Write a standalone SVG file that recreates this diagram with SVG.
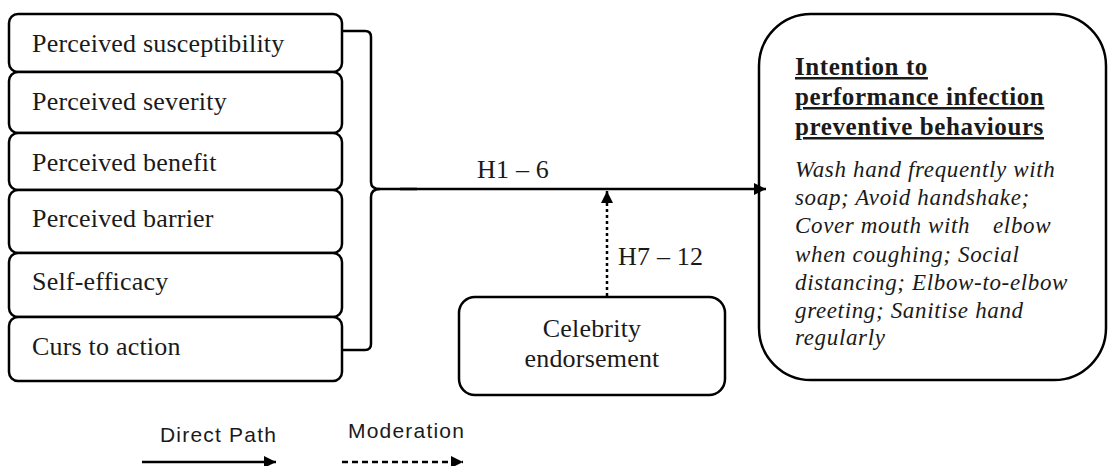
<svg xmlns="http://www.w3.org/2000/svg" width="1110" height="466" viewBox="0 0 1110 466">
<style>
.box{fill:#fff;stroke:#000;stroke-width:2.5}
.lbl{font-family:"Liberation Serif",serif;font-size:26px;letter-spacing:0.2px;fill:#1a1a1a}
.ttl{font-family:"Liberation Serif",serif;font-size:25px;font-weight:bold;letter-spacing:0.6px;fill:#1a1a1a;text-decoration:underline}
.itl{font-family:"Liberation Serif",serif;font-size:23px;font-style:italic;letter-spacing:0.65px;fill:#1a1a1a}
.leg{font-family:"Liberation Sans",sans-serif;font-size:21px;letter-spacing:1.2px;fill:#1a1a1a}
.ln{fill:none;stroke:#000;stroke-width:2.5}
</style>
<defs>
<marker id="ah" markerUnits="userSpaceOnUse" markerWidth="14" markerHeight="14" refX="12" refY="6" orient="auto"><path d="M0,0 L12,6 L0,12 z" fill="#000"/></marker>
</defs>
<rect width="1110" height="466" fill="#fff"/>
<g id="n1"><rect class="box" x="9" y="14" width="333" height="58" rx="9"/><text class="lbl" x="32" y="52">Perceived susceptibility</text></g>
<g id="n2"><rect class="box" x="9" y="72" width="333" height="61" rx="9"/><text class="lbl" x="32" y="110">Perceived severity</text></g>
<g id="n3"><rect class="box" x="9" y="133" width="333" height="57" rx="9"/><text class="lbl" x="32" y="171">Perceived benefit</text></g>
<g id="n4"><rect class="box" x="9" y="190" width="333" height="63" rx="9"/><text class="lbl" x="32" y="227">Perceived barrier</text></g>
<g id="n5"><rect class="box" x="9" y="253" width="333" height="64" rx="9"/><text class="lbl" x="32" y="290">Self-efficacy</text></g>
<g id="n6"><rect class="box" x="9" y="317" width="333" height="64" rx="9"/><text class="lbl" x="32" y="355">Curs to action</text></g>
<g id="celebrity"><rect class="box" x="459" y="297" width="266" height="98" rx="16"/><text class="lbl" x="592" y="337" text-anchor="middle">Celebrity</text><text class="lbl" x="592" y="367" text-anchor="middle">endorsement</text></g>
<g id="intention"><rect class="box" x="759" y="14" width="347" height="366" rx="52"/>
<text class="ttl" x="795" y="75">Intention to</text>
<text class="ttl" x="795" y="105">performance infection</text>
<text class="ttl" x="795" y="135">preventive behaviours</text>
<text class="itl" x="795" y="177">Wash hand frequently with</text>
<text class="itl" x="795" y="205">soap; Avoid handshake;</text>
<text class="itl" x="795" y="233">Cover mouth with<tspan x="993">elbow</tspan></text>
<text class="itl" x="795" y="262">when coughing; Social</text>
<text class="itl" x="795" y="290">distancing; Elbow-to-elbow</text>
<text class="itl" x="795" y="318">greeting; Sanitise hand</text>
<text class="itl" x="795" y="345">regularly</text>
</g>
<g id="connectors">
<path class="ln" stroke-width="3" d="M342,31 H365 Q371,31 371,37 V182 Q371,189 380,189 H417"/>
<path class="ln" stroke-width="3" d="M342,350 H365 Q371,350 371,344 V197 Q371,189 380,189"/>
<line class="ln" x1="400" y1="189" x2="766" y2="189" stroke-width="2.2" marker-end="url(#ah)"/>
<line class="ln" x1="607" y1="296" x2="607" y2="191" stroke-width="3" stroke-dasharray="3,3" marker-end="url(#ah)"/>
<text class="lbl" x="477" y="178">H1 – 6</text>
<text class="lbl" x="618" y="265">H7 – 12</text>
</g>
<g id="legend">
<text class="leg" x="160" y="442">Direct Path</text>
<text class="leg" x="348" y="438">Moderation</text>
<line class="ln" x1="142" y1="462" x2="276" y2="462" stroke-width="2" marker-end="url(#ah)"/>
<line class="ln" x1="342" y1="462" x2="463" y2="462" stroke-width="1.8" stroke-dasharray="6,4" marker-end="url(#ah)"/>
</g>
</svg>
